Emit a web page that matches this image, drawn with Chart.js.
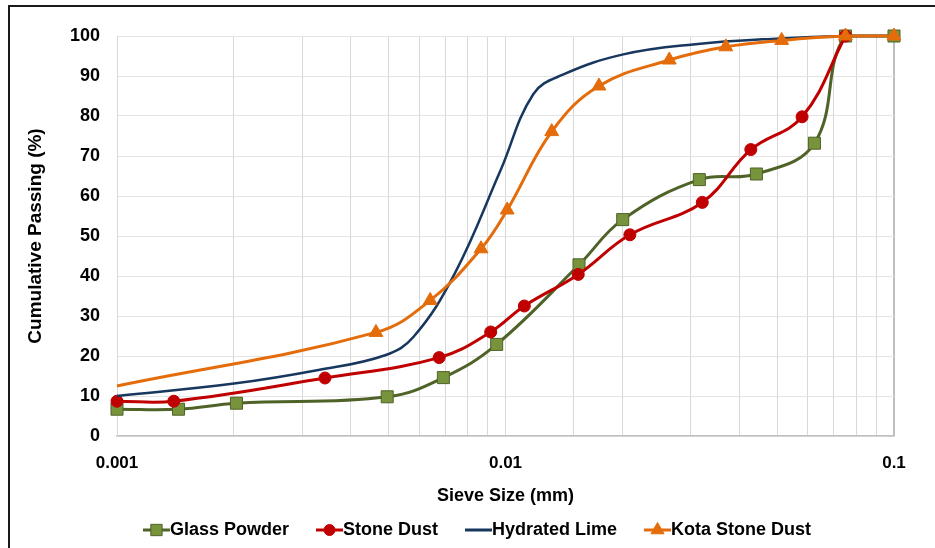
<!DOCTYPE html>
<html>
<head>
<meta charset="utf-8">
<title>Gradation curves</title>
<script src="https://cdn.jsdelivr.net/npm/chart.js@4.4.1/dist/chart.umd.min.js"></script>
<style>
    html, body { margin: 0; padding: 0; background: #fff; }
    #wrap { width: 935px; height: 548px; }
</style>
</head>
<body>
<div id="wrap"><canvas id="gradationChart" width="935" height="548"></canvas></div>
<script>
// Sieve size (mm) vs cumulative passing (%)
const glassSize = [0.001, 0.00144, 0.00203, 0.00496, 0.00692, 0.00949, 0.01546, 0.02003, 0.03155, 0.04424, 0.0624, 0.075, 0.1];
const glassPassing = [6.7, 6.7, 8.2, 9.8, 14.6, 22.9, 42.8, 54.1, 64.1, 65.5, 73.2, 100, 100];

const stoneSize = [0.001, 0.0014, 0.00343, 0.00675, 0.00916, 0.01118, 0.01539, 0.0209, 0.0321, 0.0428, 0.058, 0.075];
const stonePassing = [8.7, 8.7, 14.5, 19.6, 26.0, 32.5, 40.4, 50.3, 58.4, 71.6, 79.8, 100];

const limeSize = [0.001, 0.002, 0.0033, 0.0049, 0.0058, 0.0074, 0.0097, 0.0118, 0.0141, 0.0201, 0.0304, 0.0509, 0.075, 0.1];
const limePassing = [10.0, 13.1, 16.5, 20.2, 24.8, 40.6, 66.3, 85.5, 90.4, 95.4, 97.9, 99.4, 100, 100];

const kotaSize = [0.001, 0.00464, 0.0064, 0.00865, 0.0101, 0.01315, 0.0174, 0.0264, 0.0369, 0.0514, 0.075, 0.1];
const kotaPassing = [12.5, 25.9, 33.9, 46.8, 56.5, 76.1, 87.5, 94.0, 97.3, 98.9, 100, 100];

const seriesNames = ['Glass Powder', 'Stone Dust', 'Hydrated Lime', 'Kota Stone Dust'];
const xTickLabels = [0.001, 0.01, 0.1];
const yTickLabels = [0, 10, 20, 30, 40, 50, 60, 70, 80, 90, 100];

const FONT = '"Liberation Sans", Arial, sans-serif';
Chart.defaults.font.family = FONT;
Chart.defaults.color = '#000';

function toPoints(sizes, passing) {
    return sizes.map((s, i) => ({ x: s, y: passing[i] }));
}

// white background + the frame lines at top/left
const framePlugin = {
    id: 'frame',
    beforeDraw(chart) {
        const ctx = chart.ctx;
        ctx.save();
        ctx.fillStyle = '#fff';
        ctx.fillRect(0, 0, chart.width, chart.height);
        ctx.restore();
    },
    afterDraw(chart) {
        const ctx = chart.ctx;
        ctx.save();
        ctx.fillStyle = '#1a1a1a';
        ctx.fillRect(8, 5, chart.width - 8, 2);
        ctx.fillRect(8, 5, 2, chart.height - 5);
        ctx.restore();
    }
};

// legend with line + marker, like the spreadsheet one
const lineLegend = {
    id: 'lineLegend',
    afterDraw(chart) {
        const ctx = chart.ctx;
        const items = chart.data.datasets;
        const sw = 27, gap = 27, y = 530;
        ctx.save();
        ctx.font = 'bold 18px ' + FONT;
        ctx.textBaseline = 'middle';
        const widths = items.map(d => ctx.measureText(d.label).width);
        const total = widths.reduce((a, b) => a + b, 0) + items.length * sw + (items.length - 1) * gap;
        let x = 477 - total / 2;
        items.forEach((d, i) => {
            ctx.strokeStyle = d.borderColor;
            ctx.lineWidth = 3;
            ctx.beginPath();
            ctx.moveTo(x, y);
            ctx.lineTo(x + sw, y);
            ctx.stroke();
            if (d.legendRadius) {
                ctx.fillStyle = d.pointBackgroundColor;
                ctx.strokeStyle = d.pointBorderColor;
                ctx.lineWidth = 1;
                Chart.helpers.drawPoint(ctx, { pointStyle: d.pointStyle, radius: d.legendRadius, rotation: 0, borderWidth: 1 }, x + sw / 2, y);
            }
            ctx.fillStyle = '#000';
            ctx.fillText(d.label, x + sw, y);
            x += sw + widths[i] + gap;
        });
        ctx.restore();
    }
};

const ctx = document.getElementById('gradationChart');

new Chart(ctx, {
    type: 'scatter',
    data: {
        datasets: [{
            label: seriesNames[0],
            data: toPoints(glassSize, glassPassing),
            showLine: true,
            borderColor: '#4F6228',
            borderWidth: 3,
            tension: 0.4,
            pointStyle: 'rect',
            pointRadius: 8.5,
            pointBackgroundColor: '#77933C',
            pointBorderColor: '#4F6228',
            pointBorderWidth: 1,
            legendRadius: 8,
            order: 4
        }, {
            label: seriesNames[1],
            data: toPoints(stoneSize, stonePassing),
            showLine: true,
            borderColor: '#C00000',
            borderWidth: 3,
            tension: 0.4,
            pointStyle: 'circle',
            pointRadius: 6,
            pointBackgroundColor: '#C00000',
            pointBorderColor: '#C00000',
            pointBorderWidth: 1,
            legendRadius: 5.5,
            order: 3
        }, {
            label: seriesNames[2],
            data: toPoints(limeSize, limePassing),
            showLine: true,
            borderColor: '#17375E',
            borderWidth: 2.5,
            tension: 0.4,
            pointRadius: 0,
            order: 2
        }, {
            label: seriesNames[3],
            data: toPoints(kotaSize, kotaPassing),
            showLine: true,
            borderColor: '#E46C0A',
            borderWidth: 3,
            tension: 0.4,
            pointStyle: 'triangle',
            pointRadius: kotaSize.map((s, i) => i === 0 ? 0 : 8),
            pointBackgroundColor: '#E46C0A',
            pointBorderColor: '#E46C0A',
            pointBorderWidth: 1,
            legendRadius: 7.5,
            order: 1
        }]
    },
    options: {
        responsive: false,
        animation: false,
        devicePixelRatio: 1,
        clip: false,
        layout: { padding: { top: 36, right: 41, bottom: 41, left: 0 } },
        plugins: {
            legend: { display: false },
            tooltip: { enabled: false }
        },
        scales: {
            x: {
                type: 'logarithmic',
                min: 0.001,
                max: 0.1,
                afterFit: (s) => { s.height = 71; },
                grid: {
                    drawTicks: false,
                    color: (c) => (c.tick && Math.abs(c.tick.value - 0.1) < 1e-9) ? '#bfbfbf' : '#d9d9d9',
                    lineWidth: (c) => (c.tick && Math.abs(c.tick.value - 0.1) < 1e-9) ? 2 : 1
                },
                border: { color: '#bfbfbf', width: 1.5 },
                ticks: {
                    autoSkip: false,
                    maxRotation: 0,
                    padding: 17,
                    font: { size: 17, weight: 'bold' },
                    callback: (v) => {
                        const lbl = xTickLabels.find(t => Math.abs(t - v) / t < 1e-6);
                        return lbl !== undefined ? String(lbl) : '';
                    }
                },
                title: {
                    display: true,
                    text: 'Sieve Size (mm)',
                    font: { size: 18, weight: 'bold' },
                    padding: { top: 0, bottom: 0 }
                }
            },
            y: {
                min: 0,
                max: 100,
                afterFit: (s) => { s.width = 117; },
                afterBuildTicks: (s) => { s.ticks = yTickLabels.map(v => ({ value: v })); },
                grid: { drawTicks: false, color: '#e4e4e4' },
                border: { color: '#d9d9d9', width: 1 },
                ticks: {
                    padding: 17,
                    font: { size: 18, weight: 'bold' }
                },
                title: {
                    display: true,
                    text: 'Cumulative Passing (%)',
                    font: { size: 19, weight: 'bold' },
                    padding: { top: 24, bottom: 0 }
                }
            }
        }
    },
    plugins: [framePlugin, lineLegend]
});
</script>
</body>
</html>
